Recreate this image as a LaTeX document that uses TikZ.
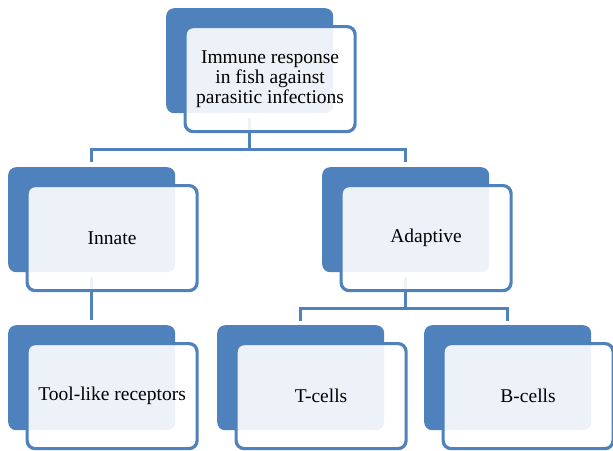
\documentclass[tikz,border=0pt]{standalone}
\usepackage{fontspec}
\setmainfont{Liberation Serif}
\newfontfamily\timesx{Liberation Serif}
\definecolor{accblue}{HTML}{4F81BD}
\pgfdeclarelayer{bg}
\pgfsetlayers{bg,main}
\begin{document}
\begin{tikzpicture}[x=1pt,y=-1pt,
  backbox/.style={fill=accblue, draw=none, rounded corners=8pt, minimum width=167pt, minimum height=105pt, anchor=north west, inner sep=0pt},
  frontbox/.style={fill=white, fill opacity=0.9, text opacity=1, draw=accblue, draw opacity=1, line width=3.2pt, rounded corners=8pt, minimum width=170pt, minimum height=105pt, anchor=north west, inner sep=0pt, align=center, font=\timesx\fontsize{19.5}{20}\selectfont},
  conn/.style={draw=accblue, line width=3.5pt}]
\useasboundingbox (0,0) rectangle (613,450);
% back boxes
\node[backbox] (topB) at (166,8) {};
\node[backbox] (innB) at (8,167) {};
\node[backbox] (adaB) at (322,167) {};
\node[backbox] (tolB) at (8,325) {};
\node[backbox] (tcB) at (217,325) {};
\node[backbox] (bcB) at (424,325) {};
% connectors (under the boxes)
\begin{pgfonlayer}{bg}
\draw[conn] ([yshift=-5pt]topB.south) -- ++(0,31) -| ([yshift=5pt]innB.north);
\draw[conn] ([yshift=-5pt]topB.south) -- ++(0,31) -| ([yshift=5pt]adaB.north);
\draw[conn] ([yshift=-5pt]innB.south) -- ([yshift=5pt]tolB.north);
\draw[conn] ([yshift=-5pt]adaB.south) -- ++(0,31) -| ([yshift=4pt]tcB.north);
\draw[conn] ([yshift=-5pt]adaB.south) -- ++(0,31) -| ([yshift=4pt]bcB.north);
\end{pgfonlayer}
% front boxes
\node[frontbox] (topF) at ([shift={(17.5,17)}]topB.north west) {Immune response\\in fish against\\parasitic infections};
\node[frontbox] (innF) at ([shift={(17.5,17)}]innB.north west) {Innate};
\node[frontbox] (adaF) at ([shift={(17.5,17)}]adaB.north west) {Adaptive};
\node[frontbox] (tolF) at ([shift={(17.5,17)}]tolB.north west) {Tool-like receptors};
\node[frontbox] (tcF) at ([shift={(17.5,17)}]tcB.north west) {T-cells};
\node[frontbox] (bcF) at ([shift={(17.5,17)}]bcB.north west) {B-cells};
\end{tikzpicture}
\end{document}
